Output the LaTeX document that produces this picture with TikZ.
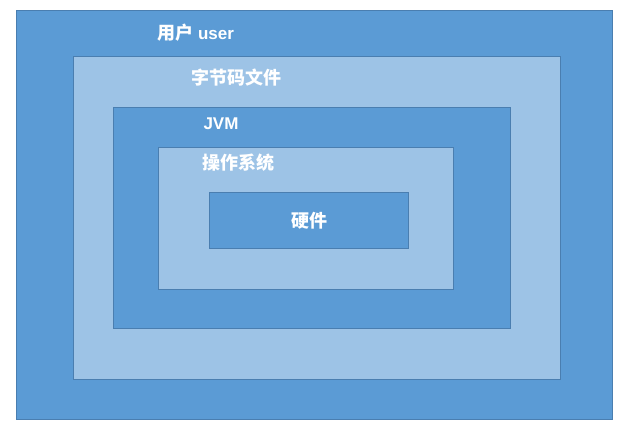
\documentclass[tikz,border=0pt]{standalone}
\usepackage{fontspec}
\setmainfont{Noto Sans CJK SC}
\newfontfamily\latinf{Liberation Sans}
\begin{document}
\begin{tikzpicture}[x=1pt,y=-1pt,
  dark/.style={fill=boxdark,draw=boxedge,line width=1pt},
  light/.style={fill=boxlight,draw=boxedge,line width=1pt},
  lbl/.style={text=white,font=\fontsize{18}{21}\selectfont\bfseries,inner sep=0pt,anchor=center}]
\definecolor{boxdark}{HTML}{5B9BD5}
\definecolor{boxlight}{HTML}{9DC3E6}
\definecolor{boxedge}{HTML}{4A7EB0}
\useasboundingbox (0,0) rectangle (629,429);
\fill[white] (0,0) rectangle (629,429);
\draw[dark] (16,10) rectangle (612,419);
\draw[light] (73,56) rectangle (560,379);
\draw[dark] (113,107) rectangle (510,328);
\draw[light] (158,147) rectangle (453,289);
\draw[dark] (209,192) rectangle (408,248);
\node[lbl] (user) at (196,33) {用户 {\latinf\fontsize{17}{20}\selectfont\bfseries user}};
\node[lbl] (bc) at (236,78) {字节码文件};
\node[lbl] (jvm) at (221,124) {\latinf\fontsize{17}{20}\selectfont\bfseries JVM};
\node[lbl] (os) at (238,163) {操作系统};
\node[lbl] (hw) at (309,221) {硬件};
\end{tikzpicture}
\end{document}
